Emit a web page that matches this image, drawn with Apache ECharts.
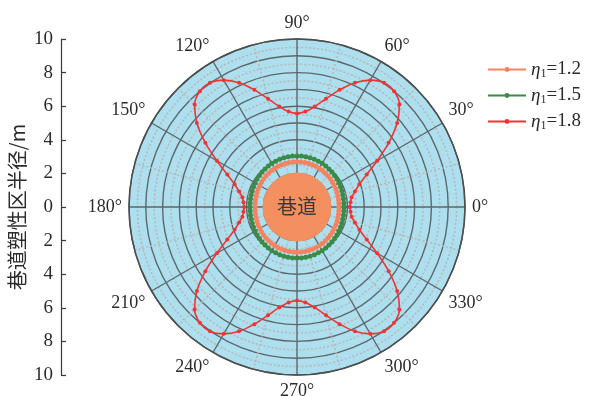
<!DOCTYPE html>
<html>
<head>
<meta charset="utf-8">
<script src="https://cdn.jsdelivr.net/npm/echarts@6/dist/echarts.min.js"></script>
<style>
  html, body { margin: 0; padding: 0; background: #fff; }
  #chart { width: 590px; height: 396px; }
</style>
</head>
<body>
<div id="chart"></div>
<script>
// Polar angles (degrees) at which the plastic-zone radius was sampled
const angles = [0,5,10,15,20,25,30,35,40,45,50,55,60,65,70,75,80,85,90,
  95,100,105,110,115,120,125,130,135,140,145,150,155,160,165,170,175,180,
  185,190,195,200,205,210,215,220,225,230,235,240,245,250,255,260,265,270,
  275,280,285,290,295,300,305,310,315,320,325,330,335,340,345,350,355,360];

// Plastic-zone radius (m) for η1 = 1.2
const radius12 = [2.50,2.50,2.51,2.52,2.53,2.55,2.56,2.58,2.60,2.62,2.63,2.65,2.66,2.67,2.68,2.68,2.69,2.69,2.69,
  2.69,2.69,2.68,2.68,2.67,2.66,2.65,2.63,2.62,2.60,2.58,2.56,2.55,2.53,2.52,2.51,2.50,2.50,
  2.50,2.51,2.52,2.53,2.55,2.56,2.58,2.60,2.62,2.63,2.65,2.66,2.67,2.68,2.68,2.69,2.69,2.69,
  2.69,2.69,2.68,2.68,2.67,2.66,2.65,2.63,2.62,2.60,2.58,2.56,2.55,2.53,2.52,2.51,2.50,2.50];

// Plastic-zone radius (m) for η1 = 1.5
const radius15 = [2.80,2.80,2.81,2.82,2.84,2.86,2.88,2.90,2.92,2.94,2.96,2.98,3.00,3.01,3.02,3.03,3.04,3.04,3.04,
  3.04,3.04,3.03,3.02,3.01,3.00,2.98,2.96,2.94,2.92,2.90,2.88,2.86,2.84,2.82,2.81,2.80,2.80,
  2.80,2.81,2.82,2.84,2.86,2.88,2.90,2.92,2.94,2.96,2.98,3.00,3.01,3.02,3.03,3.04,3.04,3.04,
  3.04,3.04,3.03,3.02,3.01,3.00,2.98,2.96,2.94,2.92,2.90,2.88,2.86,2.84,2.82,2.81,2.80,2.80];

// Plastic-zone radius (m) for η1 = 1.8
const radius18 = [3.15,3.20,3.30,3.57,3.95,4.58,5.51,6.66,7.78,8.62,8.99,9.03,8.72,8.16,7.42,6.67,6.07,5.70,5.57,
  5.70,6.07,6.67,7.42,8.16,8.72,9.03,8.99,8.62,7.78,6.66,5.51,4.58,3.95,3.57,3.30,3.20,3.15,
  3.20,3.30,3.57,3.95,4.58,5.51,6.66,7.78,8.62,8.99,9.03,8.72,8.16,7.42,6.67,6.07,5.70,5.57,
  5.70,6.07,6.67,7.42,8.16,8.72,9.03,8.99,8.62,7.78,6.66,5.51,4.58,3.95,3.57,3.30,3.20,3.15];

// Roadway (tunnel) radius in m
const tunnelRadius = [2.05];

// Outer edge of the radius scale, in m
const radiusMax = [10];

const seriesNames = ['η1=1.2', 'η1=1.5', 'η1=1.8'];
const legendLabels = ['{e|η}{s|1}=1.2', '{e|η}{s|1}=1.5', '{e|η}{s|1}=1.8'];

const serif = '"Liberation Serif", "Times New Roman", "Noto Sans CJK SC", serif';
const textColor = '#2b2b2b';

function pairs(values) {
  return values.map((r, i) => [r, angles[i]]);
}

// Filled disc of a given radius (data value) centred on the pole
function discItem(fill, label) {
  return (params, api) => {
    const c = api.coord([0, 0]);
    const e = api.coord([api.value(0), 0]);
    const r = Math.hypot(e[0] - c[0], e[1] - c[1]);
    const children = [{ type: 'circle', shape: { cx: c[0], cy: c[1], r: r }, style: { fill: fill } }];
    if (label) {
      children.push({ type: 'text', style: { text: label, x: c[0], y: c[1] - 1, align: 'center',
        verticalAlign: 'middle', fill: '#3a3a3a', font: '20px "Noto Sans CJK SC", sans-serif' } });
    }
    return { type: 'group', children: children };
  };
}

const gridSolid = { color: '#5f6669', width: 1.4 };
const gridDotted = { color: '#b4b8b9', width: 1.5, type: [2, 2] };

const chart = echarts.init(document.getElementById('chart'), null, { renderer: 'canvas' });

chart.setOption({
  backgroundColor: '#ffffff',
  animation: false,
  textStyle: { fontFamily: serif },
  polar: { center: [297, 207], radius: 168 },
  angleAxis: {
    type: 'value', min: 0, max: 360, interval: 30,
    startAngle: 0, clockwise: false,
    axisLine: { show: true, lineStyle: { color: '#4d4d4d', width: 1.5 } },
    axisTick: { show: false },
    minorTick: { show: false, splitNumber: 2 },
    axisLabel: {
      margin: 7, color: textColor, fontSize: 18, fontFamily: serif,
      formatter: v => v + '°'
    },
    splitLine: { show: true, lineStyle: gridSolid },
    minorSplitLine: { show: true, lineStyle: gridDotted }
  },
  radiusAxis: {
    type: 'value', min: 0, max: radiusMax[0], interval: 1,
    axisLine: { show: false }, axisTick: { show: false }, axisLabel: { show: false },
    minorTick: { show: false, splitNumber: 2 },
    splitLine: { show: true, lineStyle: gridSolid },
    minorSplitLine: { show: true, lineStyle: gridDotted }
  },
  grid: { left: 61, top: 39, height: 336, width: 1, containLabel: false },
  xAxis: { type: 'value', show: false, min: 0, max: 1 },
  yAxis: {
    type: 'value', min: -10, max: 10, interval: 2,
    name: '巷道塑性区半径/m', nameLocation: 'middle', nameGap: 34, nameRotate: 90,
    nameTextStyle: { color: textColor, fontSize: 20, fontFamily: '"Noto Sans CJK SC", sans-serif' },
    axisLine: { show: true, lineStyle: { color: '#3a3a3a', width: 1.2 } },
    axisTick: { show: true, inside: true, length: 5, lineStyle: { color: '#3a3a3a', width: 1.2 } },
    axisLabel: { color: textColor, fontSize: 19, fontFamily: serif, margin: 8,
      formatter: v => String(Math.abs(v)) },
    splitLine: { show: false }
  },
  legend: {
    orient: 'vertical', left: 482, top: 55, itemGap: 6,
    itemWidth: 38, itemHeight: 6,
    data: seriesNames,
    formatter: name => legendLabels[seriesNames.indexOf(name)],
    textStyle: {
      color: textColor, fontSize: 19, fontFamily: serif,
      rich: {
        e: { fontSize: 19, fontStyle: 'italic', fontFamily: serif, color: textColor },
        s: { fontSize: 12, fontFamily: serif, color: textColor, verticalAlign: 'bottom', padding: [9, 0, 0, 0] }
      }
    }
  },
  series: [
    {
      type: 'custom', coordinateSystem: 'polar', silent: true, z: -1,
      data: radiusMax.map(r => [r, 0]),
      renderItem: discItem('#aedfee', null)
    },
    {
      type: 'custom', coordinateSystem: 'polar', silent: true, z: 3,
      data: tunnelRadius.map(r => [r, 0]),
      renderItem: discItem('#f48f60', '巷道')
    },
    {
      name: seriesNames[0], type: 'line', coordinateSystem: 'polar', z: 4,
      data: pairs(radius12), symbol: 'circle', symbolSize: 5,
      lineStyle: { color: '#f7825f', width: 2.5 }, itemStyle: { color: '#f7825f' }
    },
    {
      name: seriesNames[1], type: 'line', coordinateSystem: 'polar', z: 4,
      data: pairs(radius15), symbol: 'circle', symbolSize: 5,
      lineStyle: { color: '#3a8a48', width: 2 }, itemStyle: { color: '#3a8a48' }
    },
    {
      name: seriesNames[2], type: 'line', coordinateSystem: 'polar', z: 5,
      data: pairs(radius18), symbol: 'circle', symbolSize: 4, smooth: 0.3,
      lineStyle: { color: '#f03434', width: 1.6 }, itemStyle: { color: '#f03434' }
    }
  ]
});
</script>
</body>
</html>
